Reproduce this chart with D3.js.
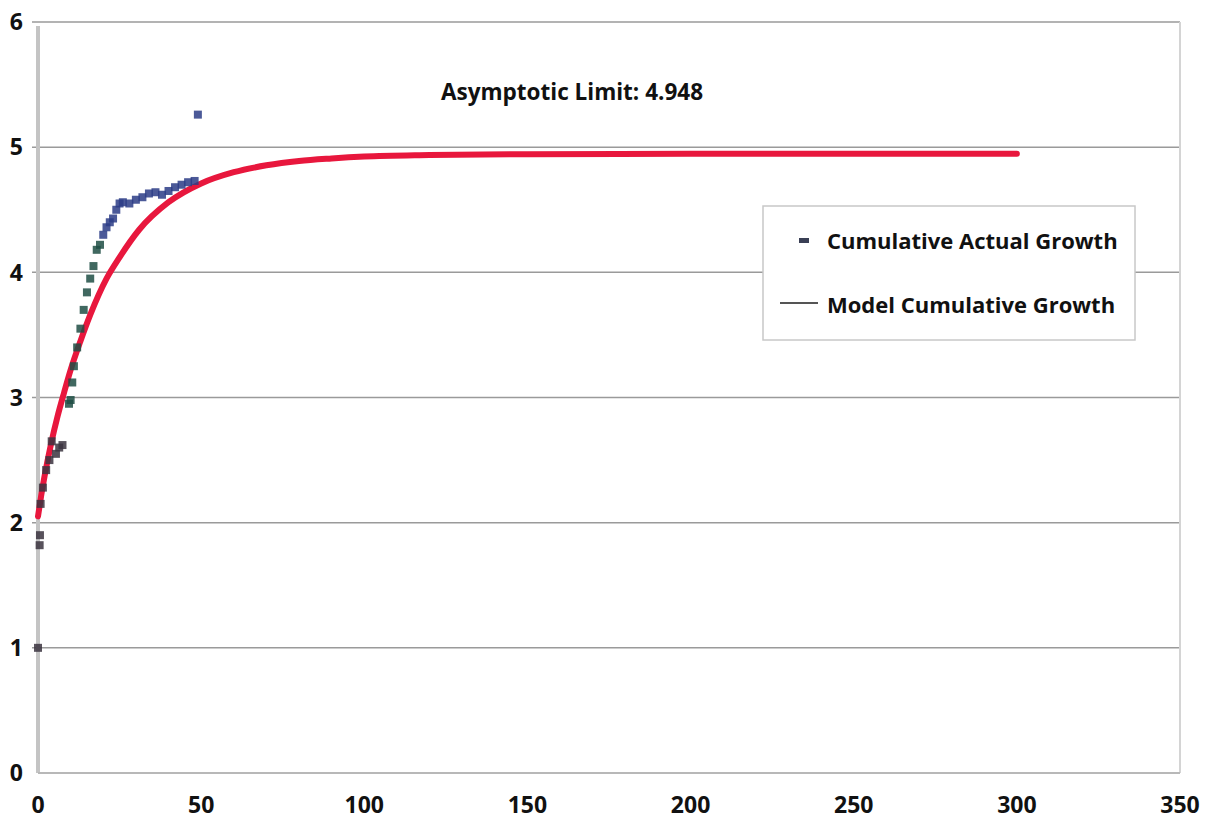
<!DOCTYPE html>
<html>
<head>
<meta charset="utf-8">
<script src="https://cdn.jsdelivr.net/npm/d3@7"></script>
<style>
  html, body { margin: 0; padding: 0; background: #ffffff; }
  svg { display: block; font-family: "Open Sans", Lato, sans-serif; }
</style>
</head>
<body>
<svg id="chart" width="1214" height="822"></svg>
<script>
// ---- data ----
const xTicks = [0, 50, 100, 150, 200, 250, 300, 350];
const yTicks = [0, 1, 2, 3, 4, 5, 6];

// Cumulative actual growth (observed points)
const actualX = [0, 0.5, 0.6, 0.8, 1.5, 2.5, 3.5, 4.2, 5.5, 6.5, 7.5, 9.5, 10, 10.5, 11, 12, 13, 14, 15, 16, 17, 18, 19, 20, 21, 22, 23, 24, 25, 26, 28, 30, 32, 34, 36, 38, 40, 42, 44, 46, 48, 49];
const actualY = [1.0, 1.82, 1.9, 2.15, 2.28, 2.42, 2.5, 2.65, 2.55, 2.6, 2.62, 2.95, 2.98, 3.12, 3.25, 3.4, 3.55, 3.7, 3.84, 3.95, 4.05, 4.18, 4.22, 4.3, 4.36, 4.4, 4.43, 4.5, 4.55, 4.56, 4.55, 4.58, 4.6, 4.63, 4.64, 4.62, 4.65, 4.68, 4.7, 4.72, 4.73, 5.26];

// Model cumulative growth (curve)
const modelX = [0, 1, 2, 4, 6, 8, 10, 13, 16, 21, 25, 31, 40, 50, 60, 70, 80, 90, 100, 120, 150, 200, 250, 300];
const modelY = [2.05, 2.22, 2.37, 2.63, 2.85, 3.04, 3.22, 3.45, 3.66, 3.95, 4.12, 4.34, 4.56, 4.71, 4.8, 4.855, 4.89, 4.91, 4.925, 4.937, 4.944, 4.947, 4.948, 4.948];

const seriesNames = ["Cumulative Actual Growth", "Model Cumulative Growth"];
const annotation = "Asymptotic Limit: 4.948";

// ---- chart ----
const svg = d3.select("#chart");
const x = d3.scaleLinear().domain([0, 350]).range([38, 1180]);
const y = d3.scaleLinear().domain([0, 6]).range([773, 22]);

// horizontal gridlines
svg.append("g").selectAll("line").data(yTicks.filter(d => d > 0)).join("line")
  .attr("x1", x(0) - 6).attr("x2", x(350))
  .attr("y1", d => y(d)).attr("y2", d => y(d))
  .attr("stroke", "#9a9a9a").attr("stroke-width", 1.5);

// right border
svg.append("line").attr("x1", x(350)).attr("x2", x(350)).attr("y1", y(6)).attr("y2", y(0))
  .attr("stroke", "#d4d4d4").attr("stroke-width", 2);

// axes lines
svg.append("line").attr("x1", x(0)).attr("x2", x(0)).attr("y1", y(6) + 4).attr("y2", y(0))
  .attr("stroke", "#c4c4c4").attr("stroke-width", 4);
svg.append("line").attr("x1", x(0)).attr("x2", x(350)).attr("y1", y(0)).attr("y2", y(0))
  .attr("stroke", "#b8b8b8").attr("stroke-width", 2);

// y tick labels
svg.append("g").selectAll("text").data(yTicks).join("text")
  .attr("x", 23).attr("y", d => y(d)).attr("dy", "0.36em")
  .attr("text-anchor", "end")
  .attr("font-size", 23).attr("font-weight", "bold").attr("fill", "#111")
  .text(d => d);

// x tick labels
svg.append("g").selectAll("text").data(xTicks).join("text")
  .attr("x", d => x(d)).attr("y", 813)
  .attr("text-anchor", "middle")
  .attr("font-size", 23).attr("font-weight", "bold").attr("fill", "#111")
  .text(d => d);

// model curve
const modelData = modelX.map((d, i) => [d, modelY[i]]);
svg.append("path").datum(modelData)
  .attr("fill", "none").attr("stroke", "#e8173d").attr("stroke-width", 6)
  .attr("stroke-linecap", "round")
  .attr("d", d3.line().x(d => x(d[0])).y(d => y(d[1])).curve(d3.curveMonotoneX));

// actual points
const actualData = actualX.map((d, i) => [d, actualY[i]]);
const colorScale = d3.scaleThreshold().domain([8, 20]).range(["#3b3440", "#1f4d44", "#2c3c86"]);
svg.append("g").selectAll("rect").data(actualData).join("rect")
  .attr("x", d => x(d[0]) - 4).attr("y", d => y(d[1]) - 4)
  .attr("width", 8).attr("height", 8)
  .attr("fill", d => colorScale(d[0])).attr("opacity", 0.85);

// annotation
svg.append("text").attr("x", 572).attr("y", 100).attr("text-anchor", "middle")
  .attr("font-size", 22.5).attr("font-weight", "bold").attr("fill", "#111")
  .text(annotation);

// legend
const lg = svg.append("g");
lg.append("rect").attr("x", 763).attr("y", 206).attr("width", 372).attr("height", 134)
  .attr("fill", "#ffffff").attr("stroke", "#c8c8c8").attr("stroke-width", 1.5);
lg.append("rect").attr("x", 799).attr("y", 238).attr("width", 10).attr("height", 5).attr("fill", "#3a3f55");
lg.append("line").attr("x1", 780).attr("x2", 818).attr("y1", 303).attr("y2", 303)
  .attr("stroke", "#555").attr("stroke-width", 2);
lg.selectAll("text.lt").data(seriesNames).join("text").attr("class", "lt")
  .attr("x", 827).attr("y", (d, i) => 249 + i * 64)
  .attr("font-size", 22).attr("font-weight", "bold").attr("fill", "#111")
  .text(d => d);
</script>
</body>
</html>
